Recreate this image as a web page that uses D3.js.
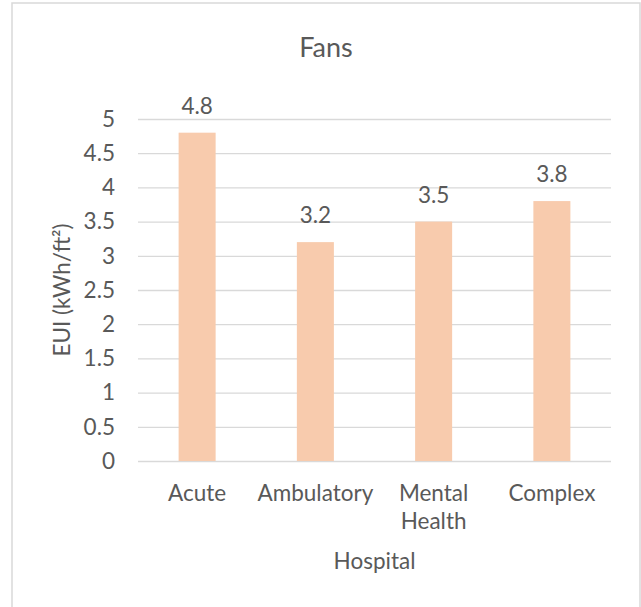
<!DOCTYPE html>
<html>
<head>
<meta charset="utf-8">
<script src="https://cdn.jsdelivr.net/npm/d3@7/dist/d3.min.js"></script>
<style>
  html, body { margin: 0; padding: 0; background: #fff; }
  text { font-family: Lato, "Open Sans", sans-serif; fill: #595959; }
</style>
</head>
<body>
<svg id="chart" width="641" height="607"></svg>
<script>
// Fan energy use intensity by hospital type
const categories = ["Acute", "Ambulatory", "Mental Health", "Complex"];
const categoryLines = [["Acute"], ["Ambulatory"], ["Mental", "Health"], ["Complex"]];
const values = [4.8, 3.2, 3.5, 3.8];
const yTicks = [0, 0.5, 1, 1.5, 2, 2.5, 3, 3.5, 4, 4.5, 5];

const svg = d3.select("#chart");
const plot = { left: 138, right: 611, top: 119, bottom: 461 };
const fs = 22.5;

// chart frame
svg.append("rect")
  .attr("x", 12).attr("y", 3)
  .attr("width", 628).attr("height", 612)
  .attr("fill", "#fff")
  .attr("stroke", "#d9d9d9").attr("stroke-width", 1.5);

const x = d3.scaleBand()
  .domain(categories)
  .range([plot.left, plot.right])
  .paddingInner(0.687)
  .paddingOuter(0.3435);

const y = d3.scaleLinear()
  .domain([0, 5])
  .range([plot.bottom, plot.top]);

// gridlines and tick labels
const yAxis = d3.axisLeft(y)
  .tickValues(yTicks)
  .tickSize(-(plot.right - plot.left))
  .tickPadding(23)
  .tickFormat(d3.format("~g"));

const gAxis = svg.append("g")
  .attr("transform", `translate(${plot.left},0)`)
  .call(yAxis);
gAxis.select(".domain").remove();
gAxis.selectAll(".tick line")
  .attr("stroke", "#d9d9d9").attr("stroke-width", 1.3);
gAxis.selectAll(".tick text")
  .attr("font-size", fs)
  .attr("fill", "#595959")
  .style("font-family", "Lato, sans-serif");

// bars
svg.append("g").selectAll("rect")
  .data(values)
  .join("rect")
  .attr("x", (d, i) => x(categories[i]))
  .attr("y", d => y(d))
  .attr("width", x.bandwidth())
  .attr("height", d => y(0) - y(d))
  .attr("fill", "#f8cbad");

// data labels
svg.append("g").selectAll("text")
  .data(values)
  .join("text")
  .attr("x", (d, i) => x(categories[i]) + x.bandwidth() / 2)
  .attr("y", d => y(d) - 19)
  .attr("text-anchor", "middle")
  .attr("font-size", fs)
  .text(d => d3.format(".1f")(d));

// category labels
const catG = svg.append("g");
categories.forEach((c, i) => {
  const cx = x(c) + x.bandwidth() / 2;
  const t = catG.append("text")
    .attr("x", cx)
    .attr("y", 501)
    .attr("text-anchor", "middle")
    .attr("font-size", fs);
  categoryLines[i].forEach((line, j) => {
    t.append("tspan")
      .attr("x", cx)
      .attr("dy", j === 0 ? 0 : 28)
      .text(line);
  });
});

// title
svg.append("text")
  .attr("x", 326).attr("y", 57)
  .attr("text-anchor", "middle")
  .attr("font-size", 27)
  .text("Fans");

// axis titles
svg.append("text")
  .attr("x", (plot.left + plot.right) / 2).attr("y", 569)
  .attr("text-anchor", "middle")
  .attr("font-size", fs)
  .text("Hospital");

svg.append("text")
  .attr("transform", `translate(70,${(plot.top + plot.bottom) / 2}) rotate(-90)`)
  .attr("text-anchor", "middle")
  .attr("font-size", fs)
  .text("EUI (kWh/ft²)");
</script>
</body>
</html>
